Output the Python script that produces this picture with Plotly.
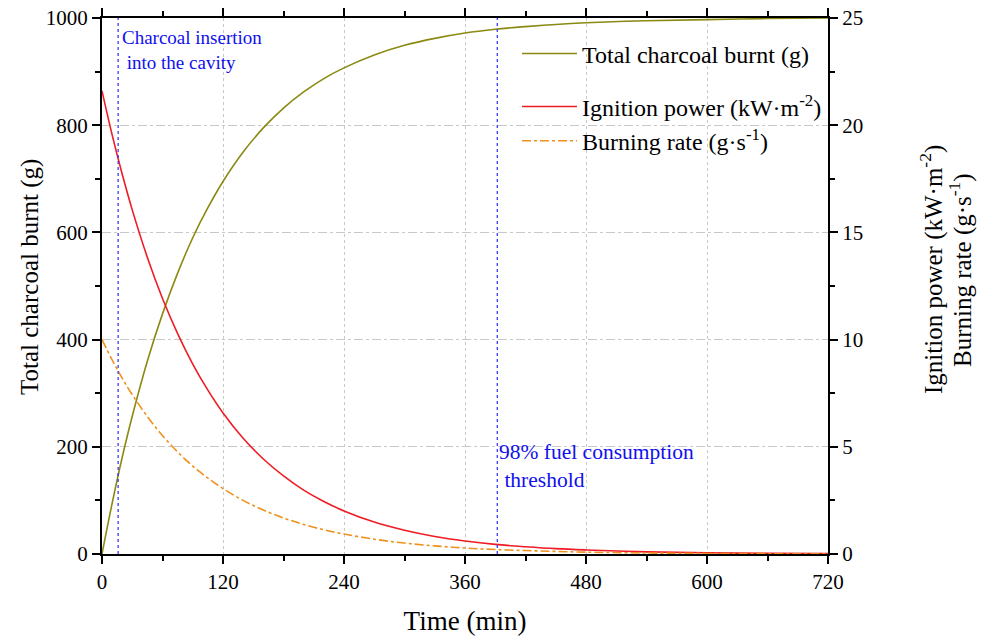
import plotly.graph_objects as go

# Data
time_min = [0, 10, 20, 30, 45, 60, 75, 90, 105, 120, 140, 160, 180, 200, 220, 240,
            270, 300, 330, 360, 390, 420, 450, 480, 540, 600, 660, 720]
total_burnt_g = [0, 94, 180, 257, 360, 448, 524, 590, 646, 695, 750, 795, 832, 862, 887, 907,
                 931, 949, 962, 972, 979, 984, 988, 991, 995, 997, 999, 1000]
ignition_power = [21.6, 19.56, 17.72, 16.05, 13.83, 11.92, 10.28, 8.86, 7.64, 6.58, 5.40, 4.43,
                  3.64, 2.98, 2.45, 2.01, 1.49, 1.11, 0.82, 0.61, 0.45, 0.34, 0.25, 0.19,
                  0.10, 0.057, 0.031, 0.017]
burning_rate = [10.0, 9.06, 8.20, 7.43, 6.41, 5.52, 4.76, 4.10, 3.54, 3.05, 2.50, 2.05,
                1.68, 1.38, 1.13, 0.93, 0.69, 0.51, 0.38, 0.28, 0.21, 0.16, 0.12, 0.086,
                0.048, 0.026, 0.015, 0.008]
event_times = [16, 392]
event_labels = ["Charcoal insertion<br> into the cavity", "98% fuel consumption<br> threshold"]
x_ticks = [0, 120, 240, 360, 480, 600, 720]

FONT = "Liberation Serif, Times New Roman, serif"

fig = go.Figure()
fig.add_trace(go.Scatter(x=time_min, y=total_burnt_g, mode="lines", name="Total charcoal burnt (g)",
                         line=dict(color="#8a8a12", width=1.6, shape="spline"), legend="legend"))
fig.add_trace(go.Scatter(x=time_min, y=ignition_power, mode="lines",
                         name="Ignition power (kW·m<sup>-2</sup>)",
                         line=dict(color="#ee1c24", width=1.6, shape="spline"), yaxis="y2", legend="legend2"))
fig.add_trace(go.Scatter(x=time_min, y=burning_rate, mode="lines",
                         name="Burning rate (g·s<sup>-1</sup>)",
                         line=dict(color="#f0901e", width=1.6, dash="dashdot", shape="spline"),
                         yaxis="y2", legend="legend2"))

for t in event_times:
    fig.add_shape(type="line", xref="x", yref="paper", x0=t, x1=t, y0=0, y1=1,
                  line=dict(color="#2a2aff", width=1.2, dash="dot"))

fig.add_annotation(x=event_times[0], y=1, xref="x", yref="paper", text=event_labels[0],
                   showarrow=False, xanchor="left", yanchor="top", align="left", xshift=2, yshift=-7,
                   font=dict(family=FONT, size=19, color="#1010ee"))
fig.add_annotation(x=event_times[1], y=200, xref="x", yref="y", text=event_labels[1],
                   showarrow=False, xanchor="left", yanchor="top", align="left", xshift=0, yshift=9,
                   font=dict(family=FONT, size=21.5, color="#1010ee"))

# Axis titles as rotated annotations
fig.add_annotation(x=0, y=0.5, xref="paper", yref="paper", text="Total charcoal burnt (g)",
                   textangle=-90, showarrow=False, xanchor="center", yanchor="middle",
                   xshift=-72, yshift=9, font=dict(family=FONT, size=25, color="black"))
fig.add_annotation(x=1, y=0.5, xref="paper", yref="paper", text="Ignition power (kW·m<sup>-2</sup>)",
                   textangle=-90, showarrow=False, xanchor="center", yanchor="middle",
                   xshift=103, yshift=16, font=dict(family=FONT, size=25, color="black"))
fig.add_annotation(x=1, y=0.5, xref="paper", yref="paper", text="Burning rate (g·s<sup>-1</sup>)",
                   textangle=-90, showarrow=False, xanchor="center", yanchor="middle",
                   xshift=132, yshift=16, font=dict(family=FONT, size=25, color="black"))

axis_common = dict(showline=True, linecolor="black", linewidth=2, ticks="outside",
                   tickcolor="black", tickwidth=2, ticklen=8, automargin=False,
                   ticklabeloverflow="allow",
                   tickfont=dict(family=FONT, size=21, color="black"), zeroline=False)

fig.update_layout(
    width=981, height=639,
    margin=dict(l=102, r=153, t=18, b=85),
    paper_bgcolor="white", plot_bgcolor="white",
    font=dict(family=FONT, color="black"),
    showlegend=True,
    xaxis=dict(range=[0, 720], tickvals=x_ticks, mirror="ticks",
               showgrid=True, gridcolor="#c8c8c8", griddash="dot", gridwidth=1,
               minor=dict(dtick=60, ticks="outside", ticklen=5, tickwidth=2, tickcolor="black", showgrid=False),
               title=dict(text="Time (min)", font=dict(family=FONT, size=27), standoff=18),
               **axis_common),
    yaxis=dict(range=[0, 1000], dtick=200,
               showgrid=True, gridcolor="#c8c8c8", griddash="dashdot", gridwidth=1,
               minor=dict(dtick=100, ticks="outside", ticklen=5, tickwidth=2, tickcolor="black", showgrid=False),
               **axis_common),
    yaxis2=dict(range=[0, 25], dtick=5, overlaying="y", side="right", showgrid=False,
                minor=dict(dtick=2.5, ticks="outside", ticklen=5, tickwidth=2, tickcolor="black"),
                **axis_common),
    legend=dict(x=0.5716, y=0.975, xanchor="left", yanchor="top", bgcolor="rgba(0,0,0,0)",
                font=dict(family=FONT, size=24), itemwidth=55),
    legend2=dict(x=0.5716, y=0.876, xanchor="left", yanchor="top", bgcolor="rgba(0,0,0,0)",
                 font=dict(family=FONT, size=24), itemwidth=55, tracegroupgap=0),
)

fig.write_html("out.html", config={"displayModeBar": False},
               post_script="document.body.style.margin='0';")
